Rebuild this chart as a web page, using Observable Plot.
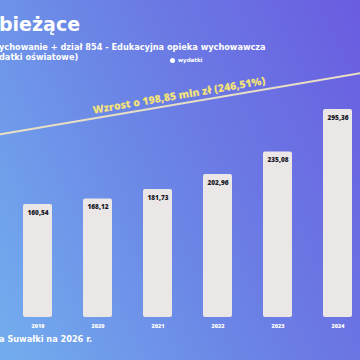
<!DOCTYPE html>
<html>
<head>
<meta charset="utf-8">
<script src="https://cdn.jsdelivr.net/npm/d3@7"></script>
<script src="https://cdn.jsdelivr.net/npm/@observablehq/plot@0.6"></script>
<style>
  html, body { margin: 0; padding: 0; }
  body { width: 360px; height: 360px; overflow: hidden; position: relative;
    background: linear-gradient(65deg, #73aeee 0%, #6b86e6 45%, #6a5ce0 100%);
    font-family: "DejaVu Sans", sans-serif; }
  .t { position: absolute; color: #fff; white-space: nowrap; font-weight: 700; }
  #chart { position: absolute; left: 0; top: 0; }
  #chart svg { background: transparent; }
</style>
</head>
<body>
<div class="t" style="left:-1px; top:13px; font-size:19px;">bieżące</div>
<div class="t" style="left:-1px; top:42px; font-size:8.2px;">ychowanie + dział 854 - Edukacyjna opieka wychowawcza</div>
<div class="t" style="left:-1px; top:52px; font-size:8.2px;">datki oświatowe)</div>
<div class="t" style="left:170px; top:57px; font-size:5.5px;"><span style="display:inline-block;width:5px;height:5px;border-radius:50%;background:#fff;vertical-align:middle;margin-right:3px;"></span>wydatki</div>
<div class="t" style="left:-1px; top:334px; font-size:8.2px;">a Suwałki na 2026 r.</div>
<div id="chart"></div>
<script>
const years = [2019, 2020, 2021, 2022, 2023, 2024];
const values = [160.54, 168.12, 181.73, 202.96, 235.08, 295.36];
const trendYears = [2018.375, 2024.375];
const trendValues = [260, 347];
const trendLabel = "Wzrost o 198,85 mln zł (246,51%)";
const labelYear = 2021.35;
const labelValue = 315;

const data = years.map((y, i) => ({year: y, value: values[i]}));
const trend = trendYears.map((y, i) => ({year: y, value: trendValues[i]}));
const fmt = v => v.toFixed(2).replace(".", ",");

const chart = Plot.plot({
  width: 360,
  height: 360,
  marginLeft: 0,
  marginRight: 0,
  marginTop: 0,
  marginBottom: 43,
  style: {background: "transparent", fontFamily: "'Open Sans', 'DejaVu Sans', sans-serif"},
  x: {type: "linear", domain: [2018.375, 2024.375], axis: null},
  y: {domain: [0, 450], axis: null},
  marks: [
    Plot.rectY(data, {x1: d => d.year - 0.5, x2: d => d.year + 0.5, y: "value",
      insetLeft: 15.5, insetRight: 15.5, fill: "#ebe7e6", rx: 2}),
    Plot.text(data, {x: "year", y: "value", text: d => fmt(d.value), dy: 8,
      fill: "#1c1c2a", fontSize: 6.5, fontWeight: 800}),
    Plot.text(data, {x: "year", y: 0, text: d => String(d.year), dy: 7,
      fill: "#ffffff", fontSize: 5.5, fontWeight: 800, lineAnchor: "top"}),
    Plot.line(trend, {x: "year", y: "value", stroke: "#e8dfc4", strokeWidth: 2}),
    Plot.text([trendLabel], {x: () => labelYear, y: () => labelValue, text: d => d,
      rotate: -9.7, fill: "#f3e27a", fontSize: 10.5, fontWeight: 800})
  ]
});
document.getElementById("chart").appendChild(chart);
</script>
</body>
</html>
